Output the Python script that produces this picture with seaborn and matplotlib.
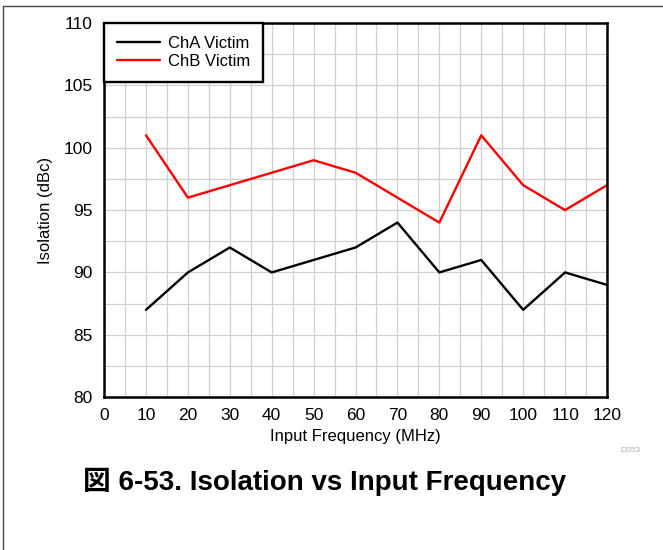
import matplotlib
matplotlib.use("Agg")
import matplotlib.pyplot as plt
import seaborn as sns
import pandas as pd
from matplotlib.ticker import MultipleLocator
from matplotlib.lines import Line2D

freq_mhz = [10, 20, 30, 40, 50, 60, 70, 80, 90, 100, 110, 120]
cha_victim = [87, 90, 92, 90, 91, 92, 94, 90, 91, 87, 90, 89]
chb_victim = [101, 96, 97, 98, 99, 98, 96, 94, 101, 97, 95, 97]
series_names = ["ChA Victim", "ChB Victim"]
series_colors = ["#000000", "#ff0000"]

df = pd.concat([
    pd.DataFrame({"freq": freq_mhz, "iso": cha_victim, "series": series_names[0]}),
    pd.DataFrame({"freq": freq_mhz, "iso": chb_victim, "series": series_names[1]}),
])

sns.set_style("white")
plt.rcParams["font.family"] = ["Liberation Sans", "Noto Sans CJK JP", "DejaVu Sans"]
plt.rcParams["text.color"] = "black"
plt.rcParams["axes.labelcolor"] = "black"
plt.rcParams["xtick.color"] = "black"
plt.rcParams["ytick.color"] = "black"

fig = plt.figure(figsize=(6.63, 5.5), dpi=100)
ax = fig.add_axes([0.157, 0.278, 0.7585, 0.680])

sns.lineplot(data=df, x="freq", y="iso", hue="series", palette=series_colors,
             linewidth=1.7, ax=ax, legend=False)

ax.set_xlim(0, 120)
ax.set_ylim(80, 110)
ax.xaxis.set_major_locator(MultipleLocator(10))
ax.xaxis.set_minor_locator(MultipleLocator(5))
ax.yaxis.set_major_locator(MultipleLocator(5))
ax.yaxis.set_minor_locator(MultipleLocator(2.5))
ax.grid(True, which="both", color="#d0d0d0", linewidth=0.9)
ax.set_axisbelow(True)
ax.tick_params(axis="both", which="both", length=0, labelsize=12.5)
ax.tick_params(axis="x", pad=8)
ax.tick_params(axis="y", pad=8)
for s in ax.spines.values():
    s.set_color("black")
    s.set_linewidth(1.8)

ax.set_xlabel("Input Frequency (MHz)", fontsize=12, labelpad=4)
ax.set_ylabel("Isolation (dBc)", fontsize=12, labelpad=8)

handles = [Line2D([], [], color=c, linewidth=1.7) for c in series_colors]
leg = ax.legend(handles, series_names, loc="upper left", fontsize=12,
                frameon=True, fancybox=False, borderaxespad=0,
                handlelength=2.6, handletextpad=0.5, borderpad=0.75,
                labelspacing=0.22)
leg.get_frame().set_edgecolor("black")
leg.get_frame().set_linewidth(1.7)
leg.get_frame().set_alpha(1)

fig.text(0.951, 0.18, "D053", fontsize=6, color="#b0b0b0", ha="center", va="center")
fig.text(0.49, 0.123, "図 6-53. Isolation vs Input Frequency", fontsize=20,
         fontweight="bold", ha="center", va="center")

# page frame lines
fig.add_artist(Line2D([0.005, 1.0], [0.989, 0.989], color="#444444", linewidth=1.0,
                      transform=fig.transFigure))
fig.add_artist(Line2D([0.005, 0.005], [0.0, 0.989], color="#444444", linewidth=1.0,
                      transform=fig.transFigure))

fig.savefig("out.png", dpi=100)
